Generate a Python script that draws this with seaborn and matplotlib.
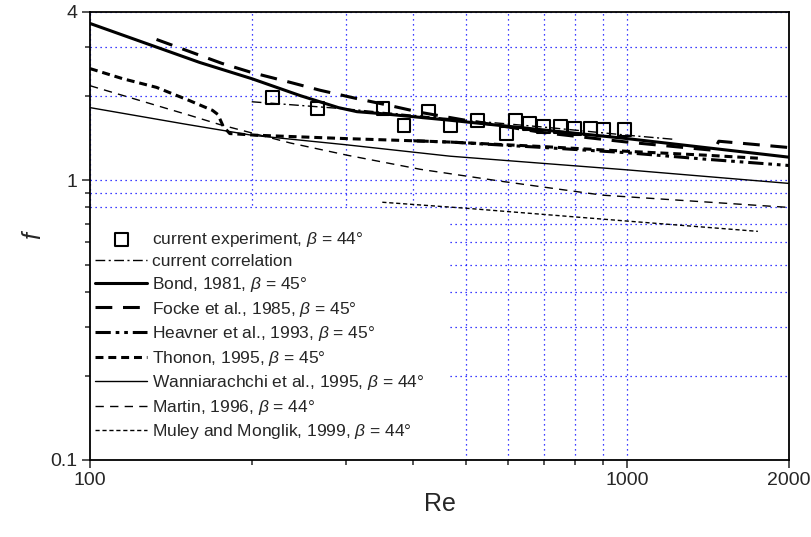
import numpy as np
import pandas as pd
import matplotlib
matplotlib.use("Agg")
import matplotlib.pyplot as plt
import matplotlib.ticker as mticker
from matplotlib.patches import Rectangle
import seaborn as sns

# experiment points
exp_re = [219, 265, 351, 384, 426, 469, 526, 595, 619, 657, 698, 750, 797, 853, 902, 987]
exp_f = [1.98, 1.81, 1.81, 1.57, 1.76, 1.57, 1.64, 1.47, 1.64, 1.60, 1.56, 1.56, 1.53, 1.53, 1.52, 1.52]

corr_re = [200, 300, 500, 700, 1000, 1230]
corr_f = [1.91, 1.80, 1.64, 1.55, 1.45, 1.40]

bond_re = [100, 160, 200, 246, 290, 314, 351, 468, 1000, 2000]
bond_f = [3.64, 2.64, 2.31, 2.01, 1.82, 1.76, 1.73, 1.64, 1.41, 1.21]

focke_re = [133, 176, 200, 236, 268, 314, 362, 412, 500, 700, 1000, 1450, 1480, 2000]
focke_f = [3.19, 2.62, 2.43, 2.24, 2.10, 1.96, 1.85, 1.75, 1.64, 1.48, 1.37, 1.28, 1.38, 1.31]

heavner_re = [400, 470, 700, 1000, 1400, 2000]
heavner_f = [1.385, 1.37, 1.31, 1.255, 1.19, 1.13]

thonon_re = [100, 115, 133, 153, 169, 173, 177, 182, 204, 300, 400, 470, 700, 1000, 1400, 1750]
thonon_f = [2.51, 2.31, 2.15, 1.93, 1.78, 1.72, 1.56, 1.47, 1.45, 1.41, 1.385, 1.37, 1.32, 1.27, 1.23, 1.20]

wann_re = [100, 150, 200, 300, 468, 1000, 2000]
wann_f = [1.82, 1.59, 1.45, 1.34, 1.22, 1.09, 0.975]

martin_re = [100, 153, 175, 236, 301, 412, 588, 900, 2000]
martin_f = [2.18, 1.71, 1.58, 1.36, 1.23, 1.095, 0.99, 0.885, 0.80]

muley_re = [350, 500, 1000, 1750]
muley_f = [0.835, 0.795, 0.715, 0.657]

sns.set_style("ticks")
plt.rcParams["font.family"] = ["Liberation Sans", "DejaVu Sans"]
plt.rcParams["mathtext.fontset"] = "custom"
plt.rcParams["mathtext.it"] = "Liberation Sans:italic"
plt.rcParams["mathtext.rm"] = "Liberation Sans"

fig = plt.figure(figsize=(8.12, 5.37), dpi=100)
ax = fig.add_axes([0.1108, 0.1434, 0.8609, 0.8343])
ax.set_xscale("log")
ax.set_yscale("log")

sns.scatterplot(x=exp_re, y=exp_f, ax=ax, marker="s", s=85, facecolors="none",
                edgecolors="black", linewidth=1.5, zorder=5,
                label=r"current experiment, $\beta$ = 44°")
sns.lineplot(x=corr_re, y=corr_f, ax=ax, color="black", lw=1.0, ls=(0, (7, 2.5, 1.5, 2.5)),
             sort=False, label="current correlation")
sns.lineplot(x=bond_re, y=bond_f, ax=ax, color="black", lw=2.2, ls="-",
             sort=False, label=r"Bond, 1981, $\beta$ = 45°")
sns.lineplot(x=focke_re, y=focke_f, ax=ax, color="black", lw=2.2, ls=(0, (5.5, 3.5)),
             sort=False, label=r"Focke et al., 1985, $\beta$ = 45°")
sns.lineplot(x=heavner_re, y=heavner_f, ax=ax, color="black", lw=2.2,
             ls=(0, (5, 1.6, 1.2, 1.6, 1.2, 1.6)),
             sort=False, label=r"Heavner et al., 1993, $\beta$ = 45°")
sns.lineplot(x=thonon_re, y=thonon_f, ax=ax, color="black", lw=2.2, ls=(0, (2.6, 1.6)),
             sort=False, label=r"Thonon, 1995, $\beta$ = 45°")
sns.lineplot(x=wann_re, y=wann_f, ax=ax, color="black", lw=1.0, ls="-",
             sort=False, label=r"Wanniarachchi et al., 1995, $\beta$ = 44°")
sns.lineplot(x=martin_re, y=martin_f, ax=ax, color="black", lw=1.0, ls=(0, (6, 4.5)),
             sort=False, label=r"Martin, 1996, $\beta$ = 44°")
sns.lineplot(x=muley_re, y=muley_f, ax=ax, color="black", lw=1.0, ls=(0, (3, 2)),
             sort=False, label=r"Muley and Monglik, 1999, $\beta$ = 44°")

ax.set_xlim(100, 2000)
ax.set_ylim(0.1, 4)

ax.xaxis.set_major_locator(mticker.FixedLocator([100, 1000, 2000]))
ax.xaxis.set_minor_locator(mticker.FixedLocator([200, 300, 400, 500, 600, 700, 800, 900]))
ax.xaxis.set_major_formatter(mticker.FixedFormatter(["100", "1000", "2000"]))
ax.xaxis.set_minor_formatter(mticker.NullFormatter())
ax.yaxis.set_major_locator(mticker.FixedLocator([0.1, 1, 4]))
ax.yaxis.set_minor_locator(mticker.FixedLocator([0.2, 0.3, 0.4, 0.5, 0.6, 0.7, 0.8, 0.9, 2, 3]))
ax.yaxis.set_major_formatter(mticker.FixedFormatter(["0.1", "1", "4"]))
ax.yaxis.set_minor_formatter(mticker.NullFormatter())

ax.grid(which="both", color="blue", ls=(0, (1, 3)), lw=0.9)
ax.set_axisbelow(True)

# white box behind the legend hides the grid there
ax.add_patch(Rectangle((0, 0), 0.515, 0.56, transform=ax.transAxes,
                       fc="white", ec="none", zorder=1.5))

ax.tick_params(which="major", direction="out", length=6, width=1.1, labelsize=14, pad=3)
ax.tick_params(which="minor", direction="out", length=3.5, width=1.1)
for sp in ax.spines.values():
    sp.set_linewidth(1.3)
    sp.set_color("black")

ax.set_xlabel("Re", fontsize=18, labelpad=2)
ax.set_ylabel("f", fontsize=18, style="italic", labelpad=4)

leg = ax.legend(loc="lower left", bbox_to_anchor=(0.0, 0.03), frameon=False,
                fontsize=12.5, handlelength=3.0, handletextpad=0.3,
                labelspacing=0.32, borderpad=0.3, borderaxespad=0.0)
leg.set_zorder(6)

fig.savefig("out.png", dpi=100)
